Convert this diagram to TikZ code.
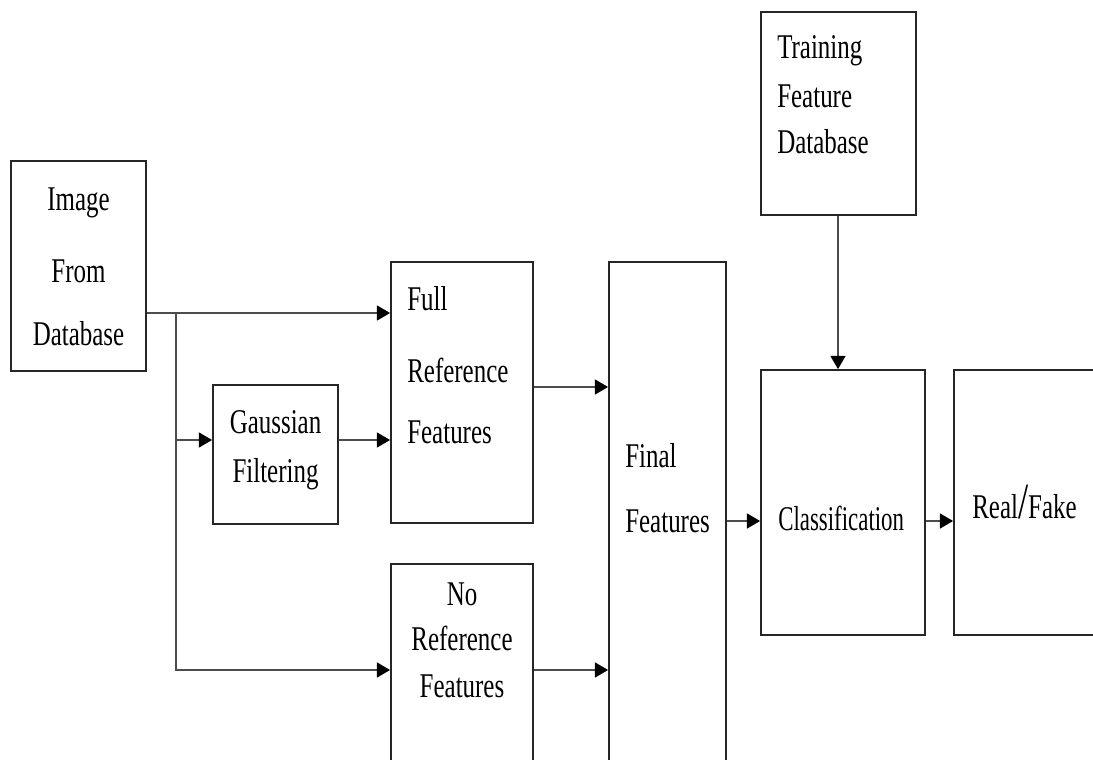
\documentclass[tikz,border=0pt]{standalone}
\usepackage{fontspec}
\setmainfont[FakeStretch=0.72]{Liberation Serif}
\newfontfamily\narrowfont[FakeStretch=0.66]{Liberation Serif}
\usetikzlibrary{arrows.meta,fit}
\tikzset{
  box/.style={draw=black!85, line width=1.2pt, inner sep=0pt},
  lbl/.style={font=\fontsize{26}{30}\selectfont, inner sep=0pt},
  arr/.style={draw=black!70, line width=2pt, -{Triangle[length=10pt,width=11pt,color=black]}},
}
\begin{document}
\begin{tikzpicture}[x=0.75pt,y=-0.75pt]
\useasboundingbox (0,0) rectangle (1093,760);
\clip (0,0) rectangle (1093,760);
\fill[white] (0,0) rectangle (1093,760);
% boxes
\node[box, fit={(11,161) (146,371)}] (img) {};
\node[box, fit={(761,12) (916,215)}] (train) {};
\node[box, fit={(391,262) (533,523)}] (full) {};
\node[box, fit={(213,385) (338,524)}] (gauss) {};
\node[box, fit={(391,564) (533,790)}] (noref) {};
\node[box, fit={(609,262) (726,790)}] (final) {};
\node[box, fit={(761,370) (925,635)}] (cls) {};
\node[box, fit={(954,370) (1120,635)}] (rf) {};
% texts
\node[lbl, anchor=base] (img1) at (78.5,210) {Image};
\node[lbl, anchor=base] (img2) at (78.5,282) {From};
\node[lbl, anchor=base] (img3) at (78.5,345) {Database};
\node[lbl, anchor=base west] (tr1) at (777,58) {Training};
\node[lbl, anchor=base west] (tr2) at (777,107) {Feature};
\node[lbl, anchor=base west] (tr3) at (777,153) {Database};
\node[lbl, anchor=base west] (fu1) at (407,310) {Full};
\node[lbl, anchor=base west] (fu2) at (407,382) {Reference};
\node[lbl, anchor=base west] (fu3) at (407,443) {Features};
\node[lbl, anchor=base] (ga1) at (275.5,433) {Gaussian};
\node[lbl, anchor=base] (ga2) at (275.5,482) {Filtering};
\node[lbl, anchor=base] (no1) at (462,605) {No};
\node[lbl, anchor=base] (no2) at (462,650) {Reference};
\node[lbl, anchor=base] (no3) at (462,697) {Features};
\node[lbl, anchor=base west] (fi1) at (625,467) {Final};
\node[lbl, anchor=base west] (fi2) at (625,532) {Features};
\node[lbl, anchor=base west] (cl1) at (778,530) {\narrowfont Classification};
\node[lbl, anchor=base west] (rf1) at (972,518) {Real{\fontsize{38}{38}\selectfont/}Fake};
% connectors
\coordinate (split) at (176,313);
\coordinate (gin) at (176,440);
\coordinate (nin) at (176,670);
\coordinate (f1) at (533,387);
\coordinate (c1) at (726,521);
\coordinate (t1) at (838,215);
\draw[arr] (img.east |- split) -- (full.west |- split);
\draw[arr] (split) -- (nin) -- (noref.west |- nin);
\draw[arr] (gin) -- (gauss.west |- gin);
\draw[arr] (gauss.east |- gin) -- (full.west |- gin);
\draw[arr] (full.east |- f1) -- (final.west |- f1);
\draw[arr] (noref.east |- nin) -- (final.west |- nin);
\draw[arr] (final.east |- c1) -- (cls.west |- c1);
\draw[arr] (cls.east |- c1) -- (rf.west |- c1);
\draw[arr] (train.south -| t1) -- (cls.north -| t1);
\end{tikzpicture}
\end{document}
